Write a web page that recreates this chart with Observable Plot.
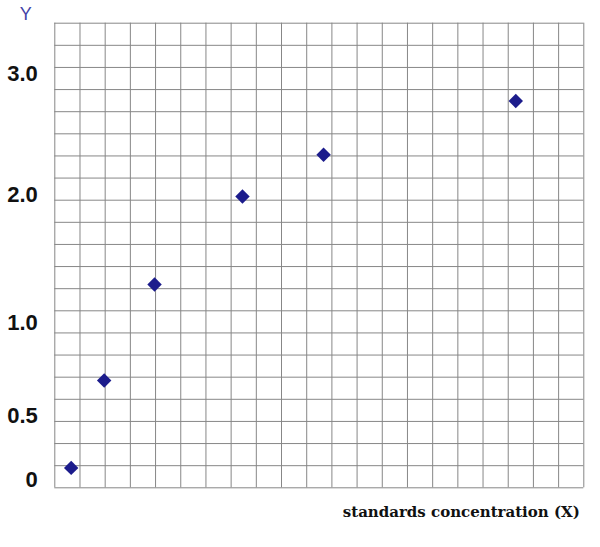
<!DOCTYPE html>
<html>
<head>
<meta charset="utf-8">
<script src="https://cdn.jsdelivr.net/npm/d3@7"></script>
<script src="https://cdn.jsdelivr.net/npm/@observablehq/plot@0.6"></script>
<style>
  html, body { margin: 0; padding: 0; background: #fff; }
  #chart svg { display: block; }
</style>
</head>
<body>
<div id="chart"></div>
<script>
// Grid (graph paper) divisions
const gridColumns = 21;
const gridRows = 21;

// Standards: positions (in grid squares)
const standardX = [0.65, 1.96, 3.96, 7.45, 10.67, 18.3];
const standardY = [0.90, 4.85, 9.19, 13.17, 15.05, 17.48];

// Y tick labels and where they sit on the paper (in grid squares)
const yTickLabels = ["0", "0.5", "1.0", "2.0", "3.0"];
const yTickPositions = [0.375, 3.27, 7.45, 13.24, 18.71];

const xTitle = "standards concentration (X)";
const yTitle = "Y";

const points = standardX.map((x, i) => ({x, y: standardY[i]}));
const tickLookup = new Map(yTickPositions.map((p, i) => [p, yTickLabels[i]]));

const chart = Plot.plot({
  width: 600,
  height: 547,
  marginLeft: 54.3,
  marginRight: 16.7,
  marginTop: 22.7,
  marginBottom: 59.7,
  style: {background: "#fff"},
  x: {domain: [0, gridColumns], axis: null},
  y: {domain: [0, gridRows], axis: null},
  marks: [
    Plot.ruleX(d3.range(gridColumns + 1), {stroke: "#878787", strokeWidth: 1}),
    Plot.ruleY(d3.range(gridRows + 1), {stroke: "#878787", strokeWidth: 1}),
    Plot.axisY({
      ticks: yTickPositions,
      tickFormat: d => tickLookup.get(d),
      tickSize: 0,
      tickPadding: 17,
      label: null,
      fontSize: 22,
      fontWeight: "bold",
      fontFamily: "Liberation Sans, Arial, sans-serif",
      fill: "#111"
    }),
    Plot.dot(points, {
      x: "x", y: "y", symbol: "diamond2", r: 6.5,
      fill: "#1c1c8c", stroke: "none"
    }),
    Plot.text([yTitle], {
      text: d => d, frameAnchor: "top-left", dx: -29, dy: -9,
      textAnchor: "middle", lineAnchor: "middle",
      fontSize: 18, fontFamily: "Liberation Sans, Arial, sans-serif",
      fill: "#4343a8"
    }),
    Plot.text([xTitle], {
      text: d => d, frameAnchor: "bottom-right", dx: -4, dy: 24,
      textAnchor: "end", lineAnchor: "middle",
      fontSize: 15, fontWeight: "bold",
      fontFamily: "DejaVu Serif, Georgia, serif",
      fill: "#111"
    })
  ]
});
document.getElementById("chart").appendChild(chart);
</script>
</body>
</html>
